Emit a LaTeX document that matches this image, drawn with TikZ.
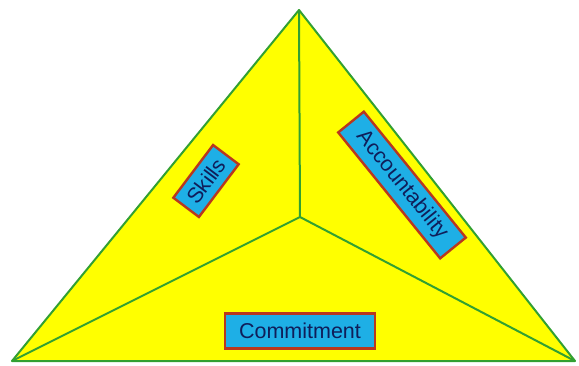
\documentclass[tikz,border=0pt]{standalone}
\usepackage{fontspec}
\setmainfont{Liberation Sans}
\definecolor{triyellow}{RGB}{255,255,0}
\definecolor{trigreen}{RGB}{50,160,50}
\definecolor{boxblue}{RGB}{30,175,230}
\definecolor{boxred}{RGB}{185,55,30}
\definecolor{txtblue}{RGB}{15,30,90}
\begin{document}
\begin{tikzpicture}[x=1pt,y=-1pt,
  edge/.style={draw=trigreen,line width=2pt},
  label/.style={draw=boxred,fill=boxblue,line width=2.4pt,text=txtblue,
    font=\fontsize{21.5}{23}\selectfont,inner sep=0pt,minimum height=33pt}]
\useasboundingbox (0,0) rectangle (579,365);
\coordinate (top) at (299,10);
\coordinate (bl) at (12,361);
\coordinate (br) at (575,361);
\coordinate (c) at (300,217);
\fill[triyellow] (top) -- (br) -- (bl) -- cycle;
\draw[edge] (c) -- (top);
\draw[edge] (c) -- (bl);
\draw[edge] (c) -- (br);
\draw[edge,line join=round] (top) -- (br) -- (bl) -- cycle;
\node[label,rotate=53,minimum width=66pt,minimum height=32pt] (skills) at (206,181) {Skills};
\node[label,rotate=-51,minimum width=162pt] (acc) at (402,185) {Accountability};
\node[label,minimum width=150pt,minimum height=35pt] (comm) at (300,331) {Commitment};
\end{tikzpicture}
\end{document}
